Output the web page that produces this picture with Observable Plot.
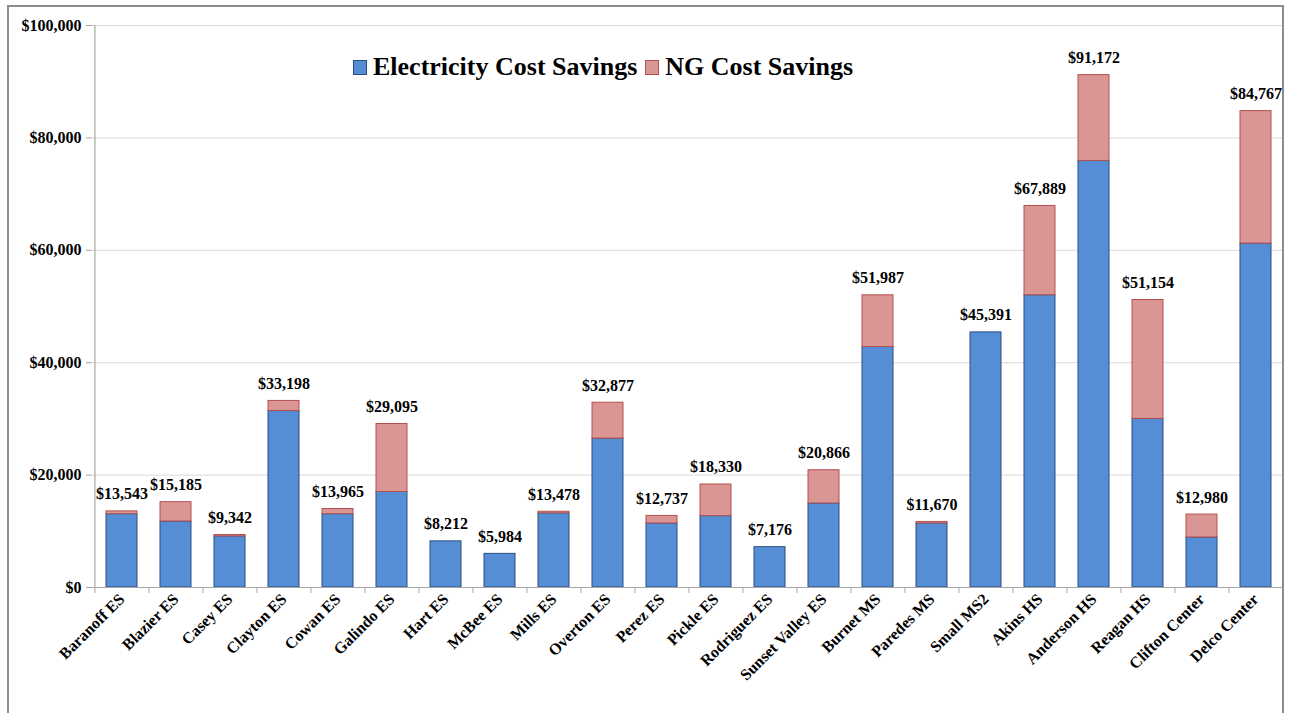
<!DOCTYPE html>
<html>
<head>
<meta charset="utf-8">
<script src="https://cdn.jsdelivr.net/npm/d3@7"></script>
<script src="https://cdn.jsdelivr.net/npm/@observablehq/plot@0.6"></script>
<style>
  html, body { margin: 0; padding: 0; background: #fff; overflow: hidden; }
  #wrap { position: relative; width: 1289px; height: 713px; }
  #frame { position: absolute; left: 7px; top: 5px; width: 1277px; height: 730px; border: 2px solid #8c8c8c; box-sizing: border-box; pointer-events: none; }
  #legend { position: absolute; left: 353px; top: 52px; display: flex; align-items: center; font-family: "Liberation Serif", "Times New Roman", serif; font-weight: bold; font-size: 26px; color: #000; white-space: nowrap; }
  .sw { width: 14px; height: 15px; box-sizing: border-box; margin-right: 6px; }
  .item { display: flex; align-items: center; margin-right: 8px; }
</style>
</head>
<body>
<div id="wrap">
  <div id="chart"></div>
  <div id="legend"></div>
  <div id="frame"></div>
</div>
<script>
const schools = ["Baranoff ES", "Blazier ES", "Casey ES", "Clayton ES", "Cowan ES", "Galindo ES", "Hart ES", "McBee ES", "Mills ES", "Overton ES", "Perez ES", "Pickle ES", "Rodriguez ES", "Sunset Valley ES", "Burnet MS", "Paredes MS", "Small MS2", "Akins HS", "Anderson HS", "Reagan HS", "Clifton Center", "Delco Center"];
const electricity = [13050, 11750, 9100, 31400, 13050, 17000, 8212, 5984, 13200, 26500, 11400, 12700, 7176, 14950, 42800, 11400, 45391, 52000, 75900, 30000, 8900, 61200];
const ngSavings = [493, 3435, 242, 1798, 915, 12095, 0, 0, 278, 6377, 1337, 5630, 0, 5916, 9187, 270, 0, 15889, 15272, 21154, 4080, 23567];
const totals = [13543, 15185, 9342, 33198, 13965, 29095, 8212, 5984, 13478, 32877, 12737, 18330, 7176, 20866, 51987, 11670, 45391, 67889, 91172, 51154, 12980, 84767];
const seriesNames = ["Electricity Cost Savings", "NG Cost Savings"];
const yTicks = [0, 20000, 40000, 60000, 80000, 100000];

const fills = {"Electricity Cost Savings": "#558ED5", "NG Cost Savings": "#D99694"};
const strokes = {"Electricity Cost Savings": "#2B4E80", "NG Cost Savings": "#B4504E"};

const data = schools.flatMap((s, i) => [
  {school: s, type: seriesNames[0], value: electricity[i]},
  {school: s, type: seriesNames[1], value: ngSavings[i]}
]);
const summary = schools.map((s, i) => ({school: s, total: totals[i]}));

const W = 1289, ML = 92, MR = 5;
const step = (W - ML - MR) / schools.length;
const half = step / 2;
const axisGray = "#a6a6a6";

const chart = Plot.plot({
  width: W,
  height: 713,
  marginTop: 25,
  marginBottom: 126,
  marginLeft: ML,
  marginRight: MR,
  style: {fontFamily: "'Liberation Serif', 'Times New Roman', serif", fontWeight: "bold", color: "#000", background: "#fff"},
  x: {domain: schools, paddingInner: 0.434, paddingOuter: 0.217, axis: null, label: null},
  y: {domain: [0, 100000], axis: null, label: null},
  marks: [
    Plot.gridY(yTicks.slice(1), {stroke: "#d9d9d9", strokeOpacity: 1, strokeWidth: 1}),
    Plot.barY(data, {x: "school", y: "value", fill: d => fills[d.type], stroke: d => strokes[d.type], strokeWidth: 1}),
    Plot.ruleY([0], {stroke: axisGray, strokeWidth: 1.2}),
    Plot.ruleX([schools[0]], {x: d => d, dx: -half, y1: 0, y2: 100000, stroke: axisGray, strokeWidth: 1.2}),
    Plot.axisY({ticks: yTicks, tickFormat: d3.format("$,"), tickSize: 6, tickPadding: 5, fontSize: 16, stroke: axisGray, fill: "#000"}),
    Plot.axisX({ticks: schools, tickFormat: () => "", tickSize: 6, dx: -half, stroke: axisGray}),
    Plot.axisX({ticks: [schools[schools.length - 1]], tickFormat: () => "", tickSize: 6, dx: half, stroke: axisGray}),
    Plot.axisX({ticks: schools, tickSize: 0, tickPadding: 9, tickRotate: -45, fontSize: 16, fill: "#000"}),
    Plot.text(summary, {x: "school", y: "total", text: d => "$" + d3.format(",")(d.total), dy: -12, lineAnchor: "bottom", fontSize: 16, fontWeight: "bold", fill: "#000"})
  ]
});
document.getElementById("chart").appendChild(chart);

const legend = document.getElementById("legend");
seriesNames.forEach(name => {
  const item = document.createElement("div");
  item.className = "item";
  const sw = document.createElement("div");
  sw.className = "sw";
  sw.style.background = fills[name];
  sw.style.border = "1px solid " + strokes[name];
  const t = document.createElement("span");
  t.textContent = name;
  item.appendChild(sw);
  item.appendChild(t);
  legend.appendChild(item);
});
</script>
</body>
</html>
